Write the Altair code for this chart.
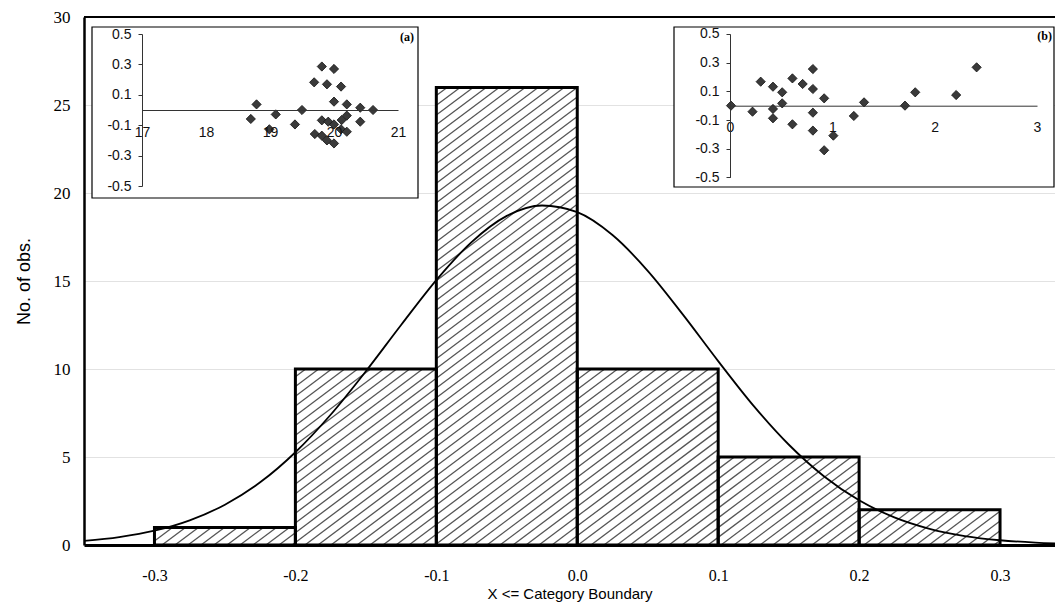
import math
import altair as alt
import pandas as pd

# ---------------- data ----------------
bin_lo = [-0.3, -0.2, -0.1, 0.0, 0.1, 0.2]
bin_hi = [-0.2, -0.1, 0.0, 0.1, 0.2, 0.3]
counts = [1, 10, 26, 10, 5, 2]

curve_x = [-0.35, -0.325, -0.30, -0.275, -0.25, -0.225, -0.20, -0.175, -0.15, -0.125,
           -0.10, -0.075, -0.05, -0.025, 0.0, 0.025, 0.05, 0.075, 0.10, 0.125,
           0.15, 0.175, 0.20, 0.225, 0.25, 0.275, 0.30, 0.325, 0.35]
curve_y = [0.23, 0.45, 0.81, 1.40, 2.29, 3.56, 5.27, 7.40, 9.87, 12.50,
           15.05, 17.21, 18.70, 19.29, 18.91, 17.61, 15.58, 13.09, 10.45, 7.92,
           5.71, 3.91, 2.54, 1.57, 0.92, 0.51, 0.27, 0.14, 0.07]

a_x = [18.79, 18.70, 19.09, 18.99, 19.39, 19.50, 19.69, 19.81, 19.89, 20.00,
       20.11, 20.00, 20.20, 20.41, 20.61, 20.41, 20.20, 20.12, 19.81, 19.91,
       20.00, 20.11, 20.20, 19.70, 19.81, 19.89, 20.00]
a_y = [0.037, -0.059, -0.029, -0.127, -0.095, 0.0, 0.182, 0.286, 0.169, 0.270,
       0.154, 0.055, 0.037, 0.015, 0.0, -0.077, -0.037, -0.066, -0.068, -0.077,
       -0.095, -0.127, -0.143, -0.158, -0.169, -0.20, -0.22]

b_x = [0.01, 0.22, 0.30, 0.42, 0.42, 0.42, 0.51, 0.51, 0.61, 0.61, 0.71, 0.81,
       0.81, 0.81, 0.81, 0.92, 0.92, 1.01, 1.21, 1.31, 1.71, 1.81, 2.21, 2.41]
b_y = [0.0, -0.042, 0.167, 0.132, -0.023, -0.088, 0.093, 0.016, 0.19, -0.13,
       0.151, 0.255, 0.116, -0.049, -0.174, 0.051, -0.311, -0.209, -0.072, 0.023,
       0.0, 0.093, 0.074, 0.267]

x_ticks = [-0.3, -0.2, -0.1, 0.0, 0.1, 0.2, 0.3]
y_ticks = [0, 5, 10, 15, 20, 25, 30]
inset_y_ticks = [-0.5, -0.3, -0.1, 0.1, 0.3, 0.5]
a_x_ticks = [17, 18, 19, 20, 21]
b_x_ticks = [0, 1, 2, 3]

# ---------------- layout ----------------
W, H = 971, 528
X_MIN, X_MAX = -0.35, 0.339
Y_MAX = 30
SERIF = "Liberation Serif, Times New Roman, serif"
SANS = "Liberation Sans, Arial, sans-serif"
NARROW = "Liberation Sans Narrow, Arial Narrow, Liberation Sans, sans-serif"
HYPHEN_1F = ("datum.value < 0 ? '-' + format(-datum.value, '.1f') "
             ": format(datum.value, '.1f')")

# hatch segments derived from the bar table (diagonal lines in pixel space)
kx = W / (X_MAX - X_MIN)
ky = H / Y_MAX
slope, spacing = 0.75, 13.0
hx, hx2, hy, hy2 = [], [], [], []
for lo, hi, n in zip(bin_lo, bin_hi, counts):
    X0 = (lo - X_MIN) * kx
    X1 = (hi - X_MIN) * kx
    Hh = n * ky
    k0 = math.floor((X0 - Hh / slope) / spacing) - 1
    k1 = math.ceil(X1 / spacing) + 1
    for k in range(k0, k1 + 1):
        c = k * spacing
        xs = max(X0, c)
        xe = min(X1, c + Hh / slope)
        if xe - xs > 0.8:
            hx.append(X_MIN + xs / kx)
            hx2.append(X_MIN + xe / kx)
            hy.append(slope * (xs - c) / ky)
            hy2.append(slope * (xe - c) / ky)

bars = pd.DataFrame({"lo": bin_lo, "hi": bin_hi, "n": counts})
hatch = pd.DataFrame({"x": hx, "x2": hx2, "y": hy, "y2": hy2})
curve = pd.DataFrame({"x": curve_x, "y": curve_y})
da = pd.DataFrame({"x": a_x, "y": a_y})
db = pd.DataFrame({"x": b_x, "y": b_y})
one = pd.DataFrame({"k": [0]})

xs_main = alt.Scale(domain=[X_MIN, X_MAX], nice=False, zero=False)
ys_main = alt.Scale(domain=[0, Y_MAX], nice=False, zero=True)

x_axis = alt.Axis(values=x_ticks, labelExpr=HYPHEN_1F, title="X <= Category Boundary",
                  labelFont=SERIF, labelFontSize=16, labelColor="black",
                  titleFont=NARROW, titleFontSize=15, titleFontWeight="normal",
                  titleColor="black", titlePadding=3, ticks=False, tickSize=0,
                  labelPadding=22, domainColor="black", domainWidth=3,
                  grid=False, labelFlush=False, zindex=0)
y_axis = alt.Axis(values=y_ticks, title="No. of obs.", labelFont=SERIF,
                  labelFontSize=17, labelColor="black", titleFont=NARROW,
                  titleFontSize=18, titleFontWeight="normal", titleColor="black",
                  titlePadding=20, ticks=False, tickSize=0, labelPadding=14,
                  domainColor="black", domainWidth=2.5, grid=True,
                  gridColor="#e2e2e2", gridWidth=1, zindex=0)


def mx(field):
    return alt.X(field, type="quantitative", scale=xs_main, axis=x_axis)


def my(field):
    return alt.Y(field, type="quantitative", scale=ys_main, axis=y_axis)


bar_fill = alt.Chart(bars).mark_rect(fill="white", stroke=None).encode(
    x=mx("lo"), x2="hi", y=my("n"), y2=alt.datum(0))
hatch_l = alt.Chart(hatch).mark_rule(color="#555555", strokeWidth=1.3).encode(
    x=mx("x"), x2="x2", y=my("y"), y2="y2")
bar_line = alt.Chart(bars).mark_rect(fill=None, stroke="black", strokeWidth=3).encode(
    x=mx("lo"), x2="hi", y=my("n"), y2=alt.datum(0))
curve_l = alt.Chart(curve).mark_line(color="black", strokeWidth=1.8,
                                     interpolate="monotone", clip=True).encode(
    x=mx("x"), y=my("y"))
top_border = alt.Chart(one).mark_rule(color="black", strokeWidth=2).encode(
    x=alt.value(0), x2=alt.value(W), y=alt.value(0))

main = alt.layer(bar_fill, hatch_l, bar_line, curve_l, top_border)


def inset(df, xdom, xrange, xvals, yrange, x_off, y_off, box, tag, tag_pos):
    xa = alt.Axis(values=xvals, orient="bottom", offset=x_off, title=None,
                  ticks=False, tickSize=0, labelPadding=15, labelFont=SANS,
                  labelFontSize=14, labelColor="#111111", domainColor="#333333",
                  domainWidth=1, grid=False, zindex=2, labelFlush=False)
    ya = alt.Axis(values=inset_y_ticks, labelExpr=HYPHEN_1F, orient="left", offset=y_off,
                  title=None, ticks=True, tickSize=4, tickColor="#333333",
                  labelPadding=7, labelFont=SANS, labelFontSize=14,
                  labelColor="#111111", domainColor="#333333", domainWidth=1,
                  grid=False, zindex=2, labelFlush=False)
    frame = alt.Chart(one).mark_rect(fill="white", stroke="black", strokeWidth=1.2).encode(
        x=alt.value(box[0]), x2=alt.value(box[1]), y=alt.value(box[2]), y2=alt.value(box[3]))
    pts = alt.Chart(df).mark_point(shape="diamond", filled=True, size=85,
                                   fill="#3a3a3a", stroke="#111111",
                                   strokeWidth=0.8, opacity=1).encode(
        x=alt.X("x:Q", scale=alt.Scale(domain=xdom, range=xrange, nice=False, zero=False), axis=xa),
        y=alt.Y("y:Q", scale=alt.Scale(domain=[-0.5, 0.5], range=yrange, nice=False, zero=False), axis=ya))
    label = alt.Chart(one).mark_text(text=tag, font=SERIF, fontSize=12,
                                     fontWeight="bold", align="right",
                                     baseline="alphabetic", color="black").encode(
        x=alt.value(tag_pos[0]), y=alt.value(tag_pos[1]))
    return alt.layer(frame, pts, label)


inset_a = inset(da, [17, 21], [58, 314], a_x_ticks, [169, 17], -435, -58,
                (8, 334, 10, 181), "(a)", (330, 24))
inset_b = inset(db, [0, 3], [646, 953], b_x_ticks, [160.4, 16.9], -439.3, -646,
                (590, 970, 10, 170), "(b)", (968, 23))

chart = alt.layer(main, inset_a, inset_b).resolve_scale(
    x="independent", y="independent"
).properties(
    width=W, height=H,
    autosize=alt.AutoSizeParams(type="none"),
    padding={"left": 76, "top": 9, "right": 0, "bottom": 57},
    background="white",
).configure_view(stroke=None)

chart.save("out.html", embed_options={"renderer": "svg", "actions": False})
